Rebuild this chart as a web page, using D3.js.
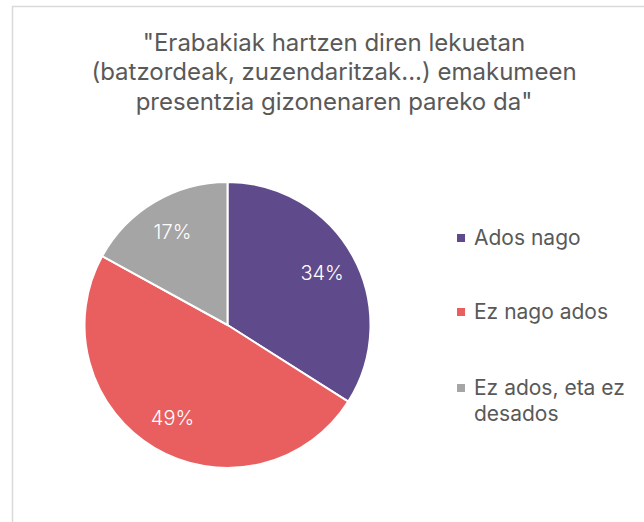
<!DOCTYPE html>
<html lang="eu">
<head>
  <meta charset="UTF-8">
  <title>Emakumeen presentzia</title>
  <script src="https://d3js.org/d3.v7.min.js"></script>
  <style>
    body { margin: 0; background: #fff; }
    .title { font-family: Inter, "Open Sans", sans-serif; font-size: 24px; fill: #595959; }
    .legend text { font-family: Inter, "Open Sans", sans-serif; font-size: 21px; fill: #595959; }
    .label { font-family: Inter, "Open Sans", sans-serif; font-size: 20px; font-weight: 300; fill: #fff; }
  </style>
</head>
<body>
<svg width="644" height="522" id="chart"></svg>

<script>
  const categories = ['Ados nago', 'Ez nago ados', 'Ez ados, eta ez desados'];
  const values = [34, 49, 17];
  const colors = ['#5F4B8B', '#E95E5E', '#A5A5A5'];
  const titleLines = ['"Erabakiak hartzen diren lekuetan', '(batzordeak, zuzendaritzak...) emakumeen', 'presentzia gizonenaren pareko da"'];
  const legendLines = [['Ados nago'], ['Ez nago ados'], ['Ez ados, eta ez', 'desados']];

  const svg = d3.select('#chart');

  // chart frame, cut off on the right and bottom like the original
  svg.append('rect')
    .attr('x', 12.5).attr('y', 6.5)
    .attr('width', 700).attr('height', 600)
    .attr('fill', '#fff')
    .attr('stroke', '#d9d9d9')
    .attr('stroke-width', 1.5);

  svg.append('text')
    .attr('class', 'title')
    .attr('text-anchor', 'middle')
    .selectAll('tspan')
    .data(titleLines)
    .enter()
    .append('tspan')
    .attr('x', 334)
    .attr('y', (d, i) => 51 + i * 29.3)
    .text(d => d);

  const cx = 227.5, cy = 325, r = 143;
  const pie = d3.pie().sort(null).value(d => d);
  const arc = d3.arc().innerRadius(0).outerRadius(r);
  const labelArc = d3.arc().innerRadius(108).outerRadius(108);

  const g = svg.append('g').attr('transform', `translate(${cx},${cy})`);
  const slices = g.selectAll('.slice')
    .data(pie(values))
    .enter()
    .append('g')
    .attr('class', 'slice');

  slices.append('path')
    .attr('d', arc)
    .attr('fill', (d, i) => colors[i])
    .attr('stroke', '#fff')
    .attr('stroke-width', 2);

  slices.append('text')
    .attr('class', 'label')
    .attr('text-anchor', 'middle')
    .attr('dy', '0.35em')
    .attr('transform', d => `translate(${labelArc.centroid(d)})`)
    .text(d => d.data + '%');

  const legend = svg.append('g').attr('class', 'legend');
  const legendY = [238, 312, 388];
  const item = legend.selectAll('g')
    .data(categories)
    .enter()
    .append('g')
    .attr('transform', (d, i) => `translate(457,${legendY[i]})`);

  item.append('rect')
    .attr('x', 0).attr('y', -4)
    .attr('width', 8).attr('height', 8)
    .attr('fill', (d, i) => colors[i]);

  item.append('text')
    .selectAll('tspan')
    .data((d, i) => legendLines[i])
    .enter()
    .append('tspan')
    .attr('x', 17)
    .attr('y', (d, j) => j * 26)
    .attr('dy', '0.35em')
    .text(d => d);
</script>
</body>
</html>
